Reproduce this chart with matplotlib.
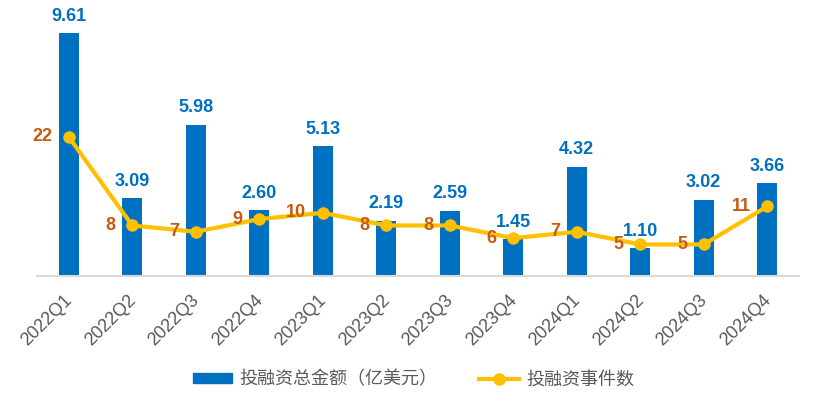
import matplotlib
matplotlib.use("Agg")
import matplotlib.pyplot as plt
import matplotlib.transforms as mtransforms
from matplotlib.lines import Line2D
from matplotlib.patches import Patch

plt.rcParams['font.family'] = ['Liberation Sans', 'Noto Sans CJK SC', 'DejaVu Sans']

quarters = ["2022Q1", "2022Q2", "2022Q3", "2022Q4",
            "2023Q1", "2023Q2", "2023Q3", "2023Q4",
            "2024Q1", "2024Q2", "2024Q3", "2024Q4"]
amount = [9.61, 3.09, 5.98, 2.60, 5.13, 2.19, 2.59, 1.45, 4.32, 1.10, 3.02, 3.66]
events = [22, 8, 7, 9, 10, 8, 8, 6, 7, 5, 5, 11]

bar_color = "#0070C0"
line_color = "#FFC000"
event_label_color = "#C55A11"
text_gray = "#595959"

fig = plt.figure(figsize=(8.22, 4.09), dpi=100)
ax = fig.add_axes([0.045, 0.325, 0.927, 0.675])
x = list(range(len(quarters)))

ax.bar(x, amount, width=0.315, color=bar_color, zorder=2)
ax.set_xlim(-0.5, len(quarters) - 0.5)
ax.set_ylim(0, 10.91)
for xi, v in zip(x, amount):
    ax.annotate(f"{v:.2f}", (xi, v), xytext=(0, 6), textcoords="offset points",
                ha="center", va="bottom", fontsize=13, fontweight="bold", color=bar_color)

ax2 = ax.twinx()
ax2.plot(x, events, color=line_color, linewidth=3, marker="o", markersize=8, zorder=3)
ax2.set_ylim(0, 43.64)
for xi, v in zip(x, events):
    ax2.annotate(str(v), (xi, v), xytext=(-12, 0), textcoords="offset points",
                 ha="right", va="center", fontsize=13, fontweight="bold", color=event_label_color)

for a in (ax, ax2):
    for s in ["top", "right", "left"]:
        a.spines[s].set_visible(False)
    a.set_yticks([])
ax2.spines["bottom"].set_visible(False)
ax.spines["bottom"].set_color("#D9D9D9")
ax.spines["bottom"].set_linewidth(1.5)

ax.set_xticks(x)
ax.set_xticklabels(quarters, rotation=45, ha="right", fontsize=13, color=text_gray)
ax.tick_params(axis="x", length=0, pad=11)
# nudge the rotated labels right so their ends sit at the tick
shift = mtransforms.ScaledTranslation(7 / 100, 0, fig.dpi_scale_trans)
for lbl in ax.get_xticklabels():
    lbl.set_transform(lbl.get_transform() + shift)

handles = [Patch(color=bar_color),
           Line2D([0], [0], color=line_color, linewidth=3, marker="o", markersize=8)]
fig.legend(handles, ["投融资总金额（亿美元）", "投融资事件数"], loc="center",
           bbox_to_anchor=(0.503, 0.071), ncol=2, frameon=False, fontsize=13,
           labelcolor=text_gray, handlelength=2.2, handletextpad=0.4,
           columnspacing=2.3, handleheight=0.5)

fig.savefig("out.png", dpi=100, facecolor="white")
